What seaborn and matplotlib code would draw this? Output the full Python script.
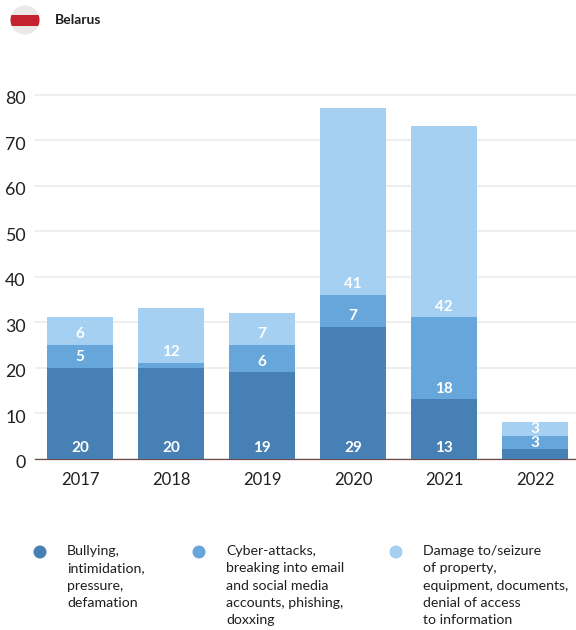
import matplotlib
matplotlib.use("Agg")
import matplotlib.pyplot as plt
from matplotlib.patches import Circle, Rectangle
from matplotlib.transforms import ScaledTranslation
import numpy as np
import seaborn as sns

years = ["2017", "2018", "2019", "2020", "2021", "2022"]
bullying = [20, 20, 19, 29, 13, 2]
cyber = [5, 1, 6, 7, 18, 3]
damage = [6, 12, 7, 41, 42, 3]
y_ticks = [0, 10, 20, 30, 40, 50, 60, 70, 80]
title = "Belarus"
legend_labels = [
    "Bullying,\nintimidation,\npressure,\ndefamation",
    "Cyber-attacks,\nbreaking into email\nand social media\naccounts, phishing,\ndoxxing",
    "Damage to/seizure\nof property,\nequipment, documents,\ndenial of access\nto information",
]
colors = ["#4680B4", "#66A6DB", "#A5D0F1"]

sns.set_theme(style="white")
plt.rcParams["font.family"] = ["Lato", "DejaVu Sans"]
TEXT = "#1f1f1f"

W, H = 576, 630
fig = plt.figure(figsize=(W / 100, H / 100), dpi=100, facecolor="white")
ax = fig.add_axes([35 / W, (H - 458.5) / H, (W - 35) / W, 364 / H])

bottom = np.zeros(len(years))
for series, color in zip([bullying, cyber, damage], colors):
    values = np.array(series, dtype=float)
    sns.barplot(x=years, y=values, bottom=bottom, color=color, saturation=1,
                width=0.72, ax=ax, zorder=3, linewidth=0)
    for i, (v, b) in enumerate(zip(values, bottom)):
        if v >= 3:
            ax.text(i, b + min(v / 2, 2.3), f"{int(v)}", ha="center", va="center",
                    color="white", fontsize=11, fontweight="bold", zorder=4)
    bottom = bottom + values

ax.set_xlim(-0.495, 5.45)
ax.set_ylim(0, 80)
ax.set_yticks(y_ticks)
ax.set_xlabel("")
ax.set_ylabel("")
ax.yaxis.grid(True, color="#e9e9e9", linewidth=1.1, zorder=0)
for line in ax.get_ygridlines():
    line.set_clip_on(False)
ax.xaxis.grid(False)
for side in ["top", "left", "right"]:
    ax.spines[side].set_visible(False)
ax.spines["bottom"].set_color("#6f4a48")
ax.spines["bottom"].set_linewidth(0.9)
ax.tick_params(axis="x", length=0, pad=9.5, labelsize=12, labelcolor=TEXT)
ax.tick_params(axis="y", length=0, pad=6.7, labelsize=12.8, labelcolor=TEXT)
shift = ScaledTranslation(0, -2.2 / 72, fig.dpi_scale_trans)
for lab in ax.get_yticklabels():
    lab.set_transform(lab.get_transform() + shift)

ov = fig.add_axes([0, 0, 1, 1], facecolor="none")
ov.set_xlim(0, W)
ov.set_ylim(H, 0)
ov.axis("off")

# flag badge
badge = Circle((25, 20), 14.5, facecolor="#ece8e8", edgecolor="none")
ov.add_patch(badge)
stripe = Rectangle((10, 15), 30, 10.5, facecolor="#C4222F", edgecolor="none")
ov.add_patch(stripe)
stripe.set_clip_path(badge)

ov.text(55, 20, title, fontsize=10, fontweight="bold", color=TEXT, va="center", ha="left")

# legend
for x_dot, x_text, label, color in zip([40, 199, 396], [67, 226, 423], legend_labels, colors):
    ov.add_patch(Circle((x_dot, 552), 6.5, facecolor=color, edgecolor="none"))
    ov.text(x_text, 545, label, fontsize=10.2, color=TEXT, va="top", ha="left", linespacing=1.53)

fig.savefig("out.png", dpi=100)
